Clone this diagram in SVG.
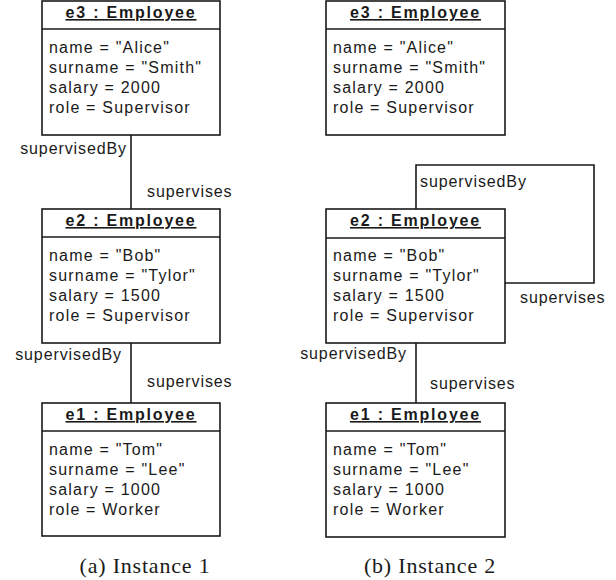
<svg xmlns="http://www.w3.org/2000/svg" width="616" height="580" viewBox="0 0 616 580">
<style>
.box{fill:#fff;stroke:#1a1a1a;stroke-width:1.6}
.sep{stroke:#1a1a1a;stroke-width:1.6}
.hd{font-family:"Liberation Sans",Arial,sans-serif;font-size:16px;font-weight:bold;letter-spacing:1.8px;text-anchor:middle;text-decoration:underline;fill:#1a1a1a}
.at{font-family:"Liberation Sans",Arial,sans-serif;font-size:16px;letter-spacing:1.2px;fill:#1a1a1a}
.lb{font-family:"Liberation Sans",Arial,sans-serif;font-size:16px;letter-spacing:0.9px;fill:#1a1a1a}
.cap{font-family:"Liberation Serif","Times New Roman",serif;font-size:22px;letter-spacing:0.8px;fill:#1a1a1a}
.con{fill:none;stroke:#1a1a1a;stroke-width:1.6}
</style>
<g id="connectors">
<line class="con" x1="131" y1="135" x2="131" y2="209"/>
<line class="con" x1="131" y1="343" x2="131" y2="403"/>
<line class="con" x1="416" y1="343" x2="416" y2="403"/>
<polyline class="con" points="416,209 416,165 594,165 594,283 505,283"/>
<text class="lb" x="127" y="154" text-anchor="end">supervisedBy</text>
<text class="lb" x="147" y="197">supervises</text>
<text class="lb" x="122" y="360" text-anchor="end">supervisedBy</text>
<text class="lb" x="147" y="387">supervises</text>
<text class="lb" x="420" y="187">supervisedBy</text>
<text class="lb" x="520" y="303">supervises</text>
<text class="lb" x="407" y="359" text-anchor="end">supervisedBy</text>
<text class="lb" x="430" y="389">supervises</text>
</g>
<g id="a-e3">
<rect class="box" x="42" y="1" width="178" height="134"/>
<line class="sep" x1="42" y1="29" x2="220" y2="29"/>
<text class="hd" x="131" y="18">e3 : Employee</text>
<text class="at" x="49" y="53">name = "Alice"</text>
<text class="at" x="49" y="73">surname = "Smith"</text>
<text class="at" x="49" y="93">salary = 2000</text>
<text class="at" x="49" y="113">role = Supervisor</text>
</g>
<g id="a-e2">
<rect class="box" x="42" y="209" width="178" height="134"/>
<line class="sep" x1="42" y1="237" x2="220" y2="237"/>
<text class="hd" x="131" y="226">e2 : Employee</text>
<text class="at" x="49" y="261">name = "Bob"</text>
<text class="at" x="49" y="281">surname = "Tylor"</text>
<text class="at" x="49" y="301">salary = 1500</text>
<text class="at" x="49" y="321">role = Supervisor</text>
</g>
<g id="a-e1">
<rect class="box" x="42" y="403" width="178" height="133"/>
<line class="sep" x1="42" y1="431" x2="220" y2="431"/>
<text class="hd" x="131" y="420">e1 : Employee</text>
<text class="at" x="49" y="455">name = "Tom"</text>
<text class="at" x="49" y="475">surname = "Lee"</text>
<text class="at" x="49" y="495">salary = 1000</text>
<text class="at" x="49" y="515">role = Worker</text>
</g>
<g id="b-e3">
<rect class="box" x="326" y="1" width="179" height="134"/>
<line class="sep" x1="326" y1="29" x2="505" y2="29"/>
<text class="hd" x="415.5" y="18">e3 : Employee</text>
<text class="at" x="333" y="53">name = "Alice"</text>
<text class="at" x="333" y="73">surname = "Smith"</text>
<text class="at" x="333" y="93">salary = 2000</text>
<text class="at" x="333" y="113">role = Supervisor</text>
</g>
<g id="b-e2">
<rect class="box" x="326" y="209" width="179" height="134"/>
<line class="sep" x1="326" y1="238" x2="505" y2="238"/>
<text class="hd" x="415.5" y="226">e2 : Employee</text>
<text class="at" x="333" y="261">name = "Bob"</text>
<text class="at" x="333" y="281">surname = "Tylor"</text>
<text class="at" x="333" y="301">salary = 1500</text>
<text class="at" x="333" y="321">role = Supervisor</text>
</g>
<g id="b-e1">
<rect class="box" x="326" y="403" width="179" height="134"/>
<line class="sep" x1="326" y1="431" x2="505" y2="431"/>
<text class="hd" x="415.5" y="420">e1 : Employee</text>
<text class="at" x="333" y="455">name = "Tom"</text>
<text class="at" x="333" y="475">surname = "Lee"</text>
<text class="at" x="333" y="495">salary = 1000</text>
<text class="at" x="333" y="515">role = Worker</text>
</g>
<text class="cap" x="145" y="573" text-anchor="middle">(a) Instance 1</text>
<text class="cap" x="430" y="573" text-anchor="middle">(b) Instance 2</text>
</svg>
